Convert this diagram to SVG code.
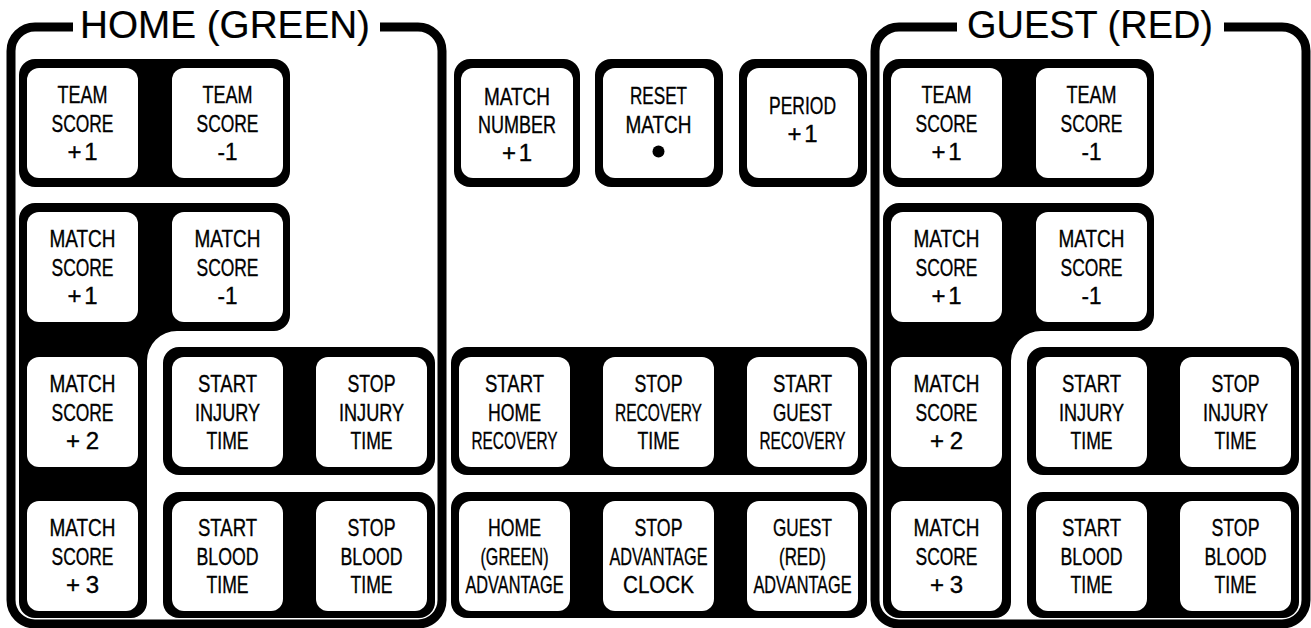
<svg xmlns="http://www.w3.org/2000/svg" width="1311" height="628" viewBox="0 0 1311 628">
<style>
.frame{fill:none;stroke:#000;stroke-width:9}
.grp{fill:#000}
.btn{fill:#fff}
.lbl{font-family:"Liberation Sans",Arial,sans-serif;font-size:24px;text-anchor:middle;fill:#000;stroke:#000;stroke-width:0.35}
.title{font-family:"Liberation Sans",Arial,sans-serif;font-size:39px;text-anchor:middle;fill:#000;stroke:#000;stroke-width:0.2}
</style>
<rect width="1311" height="628" fill="#fff"/>

<!-- HOME panel -->
<g id="home-panel">
<path class="frame" d="M73 27H35A24 24 0 0 0 11 51V600A24 24 0 0 0 35 624H418A24 24 0 0 0 442 600V51A24 24 0 0 0 418 27H380"/>
<text class="title" x="225" y="38" textLength="290" lengthAdjust="spacingAndGlyphs">HOME (GREEN)</text>
<rect class="grp" x="19" y="59" width="271" height="128" rx="16"/>
<path class="grp" d="M35 203H274A16 16 0 0 1 290 219V315A16 16 0 0 1 274 331H177A30 30 0 0 0 147 361V602A16 16 0 0 1 131 618H35A16 16 0 0 1 19 602V219A16 16 0 0 1 35 203Z"/>
<rect class="grp" x="163" y="347" width="272" height="128" rx="16"/>
<rect class="grp" x="163" y="492" width="272" height="126" rx="16"/>
</g>

<g id="home-team-plus">
<rect class="btn" x="27" y="68" width="111" height="110" rx="12"/>
<text class="lbl" x="82.5" y="103" textLength="50" lengthAdjust="spacingAndGlyphs">TEAM</text>
<text class="lbl" x="82.5" y="131.5" textLength="62" lengthAdjust="spacingAndGlyphs">SCORE</text>
<text class="lbl" x="82.5" y="160" textLength="30" lengthAdjust="spacing">+1</text>
</g>
<g id="home-team-minus">
<rect class="btn" x="172" y="68" width="111" height="110" rx="12"/>
<text class="lbl" x="227.5" y="103" textLength="50" lengthAdjust="spacingAndGlyphs">TEAM</text>
<text class="lbl" x="227.5" y="131.5" textLength="62" lengthAdjust="spacingAndGlyphs">SCORE</text>
<text class="lbl" x="227.5" y="160" textLength="20" lengthAdjust="spacingAndGlyphs">-1</text>
</g>
<g id="home-match-plus1">
<rect class="btn" x="27" y="212" width="111" height="110" rx="12"/>
<text class="lbl" x="82.5" y="247" textLength="66" lengthAdjust="spacingAndGlyphs">MATCH</text>
<text class="lbl" x="82.5" y="275.5" textLength="62" lengthAdjust="spacingAndGlyphs">SCORE</text>
<text class="lbl" x="82.5" y="304" textLength="30" lengthAdjust="spacing">+1</text>
</g>
<g id="home-match-minus1">
<rect class="btn" x="172" y="212" width="111" height="110" rx="12"/>
<text class="lbl" x="227.5" y="247" textLength="66" lengthAdjust="spacingAndGlyphs">MATCH</text>
<text class="lbl" x="227.5" y="275.5" textLength="62" lengthAdjust="spacingAndGlyphs">SCORE</text>
<text class="lbl" x="227.5" y="304" textLength="20" lengthAdjust="spacingAndGlyphs">-1</text>
</g>
<g id="home-match-plus2">
<rect class="btn" x="27" y="357" width="111" height="110" rx="12"/>
<text class="lbl" x="82.5" y="392" textLength="66" lengthAdjust="spacingAndGlyphs">MATCH</text>
<text class="lbl" x="82.5" y="420.5" textLength="62" lengthAdjust="spacingAndGlyphs">SCORE</text>
<text class="lbl" x="82.5" y="449" textLength="33" lengthAdjust="spacing">+2</text>
</g>
<g id="home-match-plus3">
<rect class="btn" x="27" y="501" width="111" height="110" rx="12"/>
<text class="lbl" x="82.5" y="536" textLength="66" lengthAdjust="spacingAndGlyphs">MATCH</text>
<text class="lbl" x="82.5" y="564.5" textLength="62" lengthAdjust="spacingAndGlyphs">SCORE</text>
<text class="lbl" x="82.5" y="593" textLength="33" lengthAdjust="spacing">+3</text>
</g>
<g id="home-start-injury">
<rect class="btn" x="172" y="357" width="111" height="110" rx="12"/>
<text class="lbl" x="227.5" y="392" textLength="59" lengthAdjust="spacingAndGlyphs">START</text>
<text class="lbl" x="227.5" y="420.5" textLength="65" lengthAdjust="spacingAndGlyphs">INJURY</text>
<text class="lbl" x="227.5" y="449" textLength="42" lengthAdjust="spacingAndGlyphs">TIME</text>
</g>
<g id="home-stop-injury">
<rect class="btn" x="316" y="357" width="111" height="110" rx="12"/>
<text class="lbl" x="371.5" y="392" textLength="48" lengthAdjust="spacingAndGlyphs">STOP</text>
<text class="lbl" x="371.5" y="420.5" textLength="65" lengthAdjust="spacingAndGlyphs">INJURY</text>
<text class="lbl" x="371.5" y="449" textLength="42" lengthAdjust="spacingAndGlyphs">TIME</text>
</g>
<g id="home-start-blood">
<rect class="btn" x="172" y="501" width="111" height="110" rx="12"/>
<text class="lbl" x="227.5" y="536" textLength="59" lengthAdjust="spacingAndGlyphs">START</text>
<text class="lbl" x="227.5" y="564.5" textLength="62" lengthAdjust="spacingAndGlyphs">BLOOD</text>
<text class="lbl" x="227.5" y="593" textLength="42" lengthAdjust="spacingAndGlyphs">TIME</text>
</g>
<g id="home-stop-blood">
<rect class="btn" x="316" y="501" width="111" height="110" rx="12"/>
<text class="lbl" x="371.5" y="536" textLength="48" lengthAdjust="spacingAndGlyphs">STOP</text>
<text class="lbl" x="371.5" y="564.5" textLength="62" lengthAdjust="spacingAndGlyphs">BLOOD</text>
<text class="lbl" x="371.5" y="593" textLength="42" lengthAdjust="spacingAndGlyphs">TIME</text>
</g>

<!-- CENTER -->
<g id="center-panel">
<rect class="grp" x="451" y="347" width="416" height="128" rx="16"/>
<rect class="grp" x="451" y="492" width="416" height="126" rx="16"/>
</g>
<g id="match-number">
<rect class="grp" x="454" y="59" width="126" height="128" rx="16"/>
<rect class="btn" x="461" y="68" width="112" height="110" rx="12"/>
<text class="lbl" x="517" y="105" textLength="66" lengthAdjust="spacingAndGlyphs">MATCH</text>
<text class="lbl" x="517" y="133" textLength="78" lengthAdjust="spacingAndGlyphs">NUMBER</text>
<text class="lbl" x="517" y="161" textLength="30" lengthAdjust="spacing">+1</text>
</g>
<g id="reset-match">
<rect class="grp" x="595" y="59" width="128" height="128" rx="16"/>
<rect class="btn" x="603" y="68" width="111" height="110" rx="12"/>
<text class="lbl" x="658.5" y="104" textLength="57" lengthAdjust="spacingAndGlyphs">RESET</text>
<text class="lbl" x="658.5" y="132.5" textLength="66" lengthAdjust="spacingAndGlyphs">MATCH</text>
<circle cx="658.5" cy="151.5" r="6" fill="#000"/>
</g>
<g id="period">
<rect class="grp" x="739" y="59" width="128" height="128" rx="16"/>
<rect class="btn" x="747" y="68" width="111" height="110" rx="12"/>
<text class="lbl" x="802.5" y="113.5" textLength="67" lengthAdjust="spacingAndGlyphs">PERIOD</text>
<text class="lbl" x="802.5" y="142" textLength="30" lengthAdjust="spacing">+1</text>
</g>
<g id="start-home-recovery">
<rect class="btn" x="459" y="357" width="111" height="110" rx="12"/>
<text class="lbl" x="514.5" y="392" textLength="59" lengthAdjust="spacingAndGlyphs">START</text>
<text class="lbl" x="514.5" y="420.5" textLength="53" lengthAdjust="spacingAndGlyphs">HOME</text>
<text class="lbl" x="514.5" y="449" textLength="86" lengthAdjust="spacingAndGlyphs">RECOVERY</text>
</g>
<g id="stop-recovery-time">
<rect class="btn" x="603" y="357" width="111" height="110" rx="12"/>
<text class="lbl" x="658.5" y="392" textLength="48" lengthAdjust="spacingAndGlyphs">STOP</text>
<text class="lbl" x="658.5" y="420.5" textLength="87" lengthAdjust="spacingAndGlyphs">RECOVERY</text>
<text class="lbl" x="658.5" y="449" textLength="42" lengthAdjust="spacingAndGlyphs">TIME</text>
</g>
<g id="start-guest-recovery">
<rect class="btn" x="747" y="357" width="111" height="110" rx="12"/>
<text class="lbl" x="802.5" y="392" textLength="59" lengthAdjust="spacingAndGlyphs">START</text>
<text class="lbl" x="802.5" y="420.5" textLength="59" lengthAdjust="spacingAndGlyphs">GUEST</text>
<text class="lbl" x="802.5" y="449" textLength="86" lengthAdjust="spacingAndGlyphs">RECOVERY</text>
</g>
<g id="home-advantage">
<rect class="btn" x="459" y="501" width="111" height="110" rx="12"/>
<text class="lbl" x="514.5" y="536" textLength="53" lengthAdjust="spacingAndGlyphs">HOME</text>
<text class="lbl" x="514.5" y="564.5" textLength="68" lengthAdjust="spacingAndGlyphs">(GREEN)</text>
<text class="lbl" x="514.5" y="593" textLength="98" lengthAdjust="spacingAndGlyphs">ADVANTAGE</text>
</g>
<g id="stop-advantage-clock">
<rect class="btn" x="603" y="501" width="111" height="110" rx="12"/>
<text class="lbl" x="658.5" y="536" textLength="48" lengthAdjust="spacingAndGlyphs">STOP</text>
<text class="lbl" x="658.5" y="564.5" textLength="98" lengthAdjust="spacingAndGlyphs">ADVANTAGE</text>
<text class="lbl" x="658.5" y="593" textLength="71" lengthAdjust="spacingAndGlyphs">CLOCK</text>
</g>
<g id="guest-advantage">
<rect class="btn" x="747" y="501" width="111" height="110" rx="12"/>
<text class="lbl" x="802.5" y="536" textLength="59" lengthAdjust="spacingAndGlyphs">GUEST</text>
<text class="lbl" x="802.5" y="564.5" textLength="47" lengthAdjust="spacingAndGlyphs">(RED)</text>
<text class="lbl" x="802.5" y="593" textLength="98" lengthAdjust="spacingAndGlyphs">ADVANTAGE</text>
</g>

<!-- GUEST panel -->
<g id="guest-panel">
<path class="frame" d="M957 27H899A24 24 0 0 0 875 51V600A24 24 0 0 0 899 624H1282A24 24 0 0 0 1306 600V51A24 24 0 0 0 1282 27H1224"/>
<text class="title" x="1090" y="38" textLength="246" lengthAdjust="spacingAndGlyphs">GUEST (RED)</text>
<rect class="grp" x="883" y="59" width="271" height="128" rx="16"/>
<path class="grp" d="M899 203H1138A16 16 0 0 1 1154 219V315A16 16 0 0 1 1138 331H1041A30 30 0 0 0 1011 361V602A16 16 0 0 1 995 618H899A16 16 0 0 1 883 602V219A16 16 0 0 1 899 203Z"/>
<rect class="grp" x="1027" y="347" width="272" height="128" rx="16"/>
<rect class="grp" x="1027" y="492" width="272" height="126" rx="16"/>
</g>

<g id="guest-team-plus">
<rect class="btn" x="891" y="68" width="111" height="110" rx="12"/>
<text class="lbl" x="946.5" y="103" textLength="50" lengthAdjust="spacingAndGlyphs">TEAM</text>
<text class="lbl" x="946.5" y="131.5" textLength="62" lengthAdjust="spacingAndGlyphs">SCORE</text>
<text class="lbl" x="946.5" y="160" textLength="30" lengthAdjust="spacing">+1</text>
</g>
<g id="guest-team-minus">
<rect class="btn" x="1036" y="68" width="111" height="110" rx="12"/>
<text class="lbl" x="1091.5" y="103" textLength="50" lengthAdjust="spacingAndGlyphs">TEAM</text>
<text class="lbl" x="1091.5" y="131.5" textLength="62" lengthAdjust="spacingAndGlyphs">SCORE</text>
<text class="lbl" x="1091.5" y="160" textLength="20" lengthAdjust="spacingAndGlyphs">-1</text>
</g>
<g id="guest-match-plus1">
<rect class="btn" x="891" y="212" width="111" height="110" rx="12"/>
<text class="lbl" x="946.5" y="247" textLength="66" lengthAdjust="spacingAndGlyphs">MATCH</text>
<text class="lbl" x="946.5" y="275.5" textLength="62" lengthAdjust="spacingAndGlyphs">SCORE</text>
<text class="lbl" x="946.5" y="304" textLength="30" lengthAdjust="spacing">+1</text>
</g>
<g id="guest-match-minus1">
<rect class="btn" x="1036" y="212" width="111" height="110" rx="12"/>
<text class="lbl" x="1091.5" y="247" textLength="66" lengthAdjust="spacingAndGlyphs">MATCH</text>
<text class="lbl" x="1091.5" y="275.5" textLength="62" lengthAdjust="spacingAndGlyphs">SCORE</text>
<text class="lbl" x="1091.5" y="304" textLength="20" lengthAdjust="spacingAndGlyphs">-1</text>
</g>
<g id="guest-match-plus2">
<rect class="btn" x="891" y="357" width="111" height="110" rx="12"/>
<text class="lbl" x="946.5" y="392" textLength="66" lengthAdjust="spacingAndGlyphs">MATCH</text>
<text class="lbl" x="946.5" y="420.5" textLength="62" lengthAdjust="spacingAndGlyphs">SCORE</text>
<text class="lbl" x="946.5" y="449" textLength="33" lengthAdjust="spacing">+2</text>
</g>
<g id="guest-match-plus3">
<rect class="btn" x="891" y="501" width="111" height="110" rx="12"/>
<text class="lbl" x="946.5" y="536" textLength="66" lengthAdjust="spacingAndGlyphs">MATCH</text>
<text class="lbl" x="946.5" y="564.5" textLength="62" lengthAdjust="spacingAndGlyphs">SCORE</text>
<text class="lbl" x="946.5" y="593" textLength="33" lengthAdjust="spacing">+3</text>
</g>
<g id="guest-start-injury">
<rect class="btn" x="1036" y="357" width="111" height="110" rx="12"/>
<text class="lbl" x="1091.5" y="392" textLength="59" lengthAdjust="spacingAndGlyphs">START</text>
<text class="lbl" x="1091.5" y="420.5" textLength="65" lengthAdjust="spacingAndGlyphs">INJURY</text>
<text class="lbl" x="1091.5" y="449" textLength="42" lengthAdjust="spacingAndGlyphs">TIME</text>
</g>
<g id="guest-stop-injury">
<rect class="btn" x="1180" y="357" width="111" height="110" rx="12"/>
<text class="lbl" x="1235.5" y="392" textLength="48" lengthAdjust="spacingAndGlyphs">STOP</text>
<text class="lbl" x="1235.5" y="420.5" textLength="65" lengthAdjust="spacingAndGlyphs">INJURY</text>
<text class="lbl" x="1235.5" y="449" textLength="42" lengthAdjust="spacingAndGlyphs">TIME</text>
</g>
<g id="guest-start-blood">
<rect class="btn" x="1036" y="501" width="111" height="110" rx="12"/>
<text class="lbl" x="1091.5" y="536" textLength="59" lengthAdjust="spacingAndGlyphs">START</text>
<text class="lbl" x="1091.5" y="564.5" textLength="62" lengthAdjust="spacingAndGlyphs">BLOOD</text>
<text class="lbl" x="1091.5" y="593" textLength="42" lengthAdjust="spacingAndGlyphs">TIME</text>
</g>
<g id="guest-stop-blood">
<rect class="btn" x="1180" y="501" width="111" height="110" rx="12"/>
<text class="lbl" x="1235.5" y="536" textLength="48" lengthAdjust="spacingAndGlyphs">STOP</text>
<text class="lbl" x="1235.5" y="564.5" textLength="62" lengthAdjust="spacingAndGlyphs">BLOOD</text>
<text class="lbl" x="1235.5" y="593" textLength="42" lengthAdjust="spacingAndGlyphs">TIME</text>
</g>
</svg>
